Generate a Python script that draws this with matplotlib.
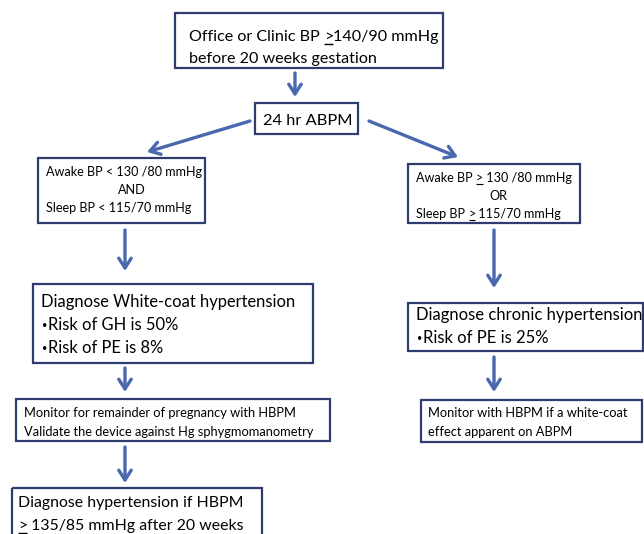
#!/usr/bin/env python3
"""Flowchart: diagnosing hypertension before 20 weeks with ABPM / HBPM."""

import matplotlib
matplotlib.use('Agg')
import matplotlib.pyplot as plt
from matplotlib.patches import Rectangle

plt.rcParams['font.family'] = ['Lato', 'DejaVu Sans']

# Box texts; "_>_" marks an underlined ">" (used as a "greater or equal" sign)
top_lines = ["Office or Clinic BP _>_140/90 mmHg", "before 20 weeks gestation"]
abpm_lines = ["24 hr ABPM"]
left_crit = ["Awake BP < 130 /80 mmHg", "AND", "Sleep BP < 115/70 mmHg"]
right_crit = ["Awake BP _>_ 130 /80 mmHg", "OR", "Sleep BP _>_ 115/70 mmHg"]
left_dx = ["Diagnose White-coat hypertension", "\u2022Risk of GH is 50%", "\u2022Risk of PE is 8%"]
right_dx = ["Diagnose chronic hypertension", "\u2022Risk of PE is 25%"]
left_mon = ["Monitor for remainder of pregnancy with HBPM",
            "Validate the device against Hg sphygmomanometry"]
right_mon = ["Monitor with HBPM if a white-coat", "effect apparent on ABPM"]
final_lines = ["Diagnose hypertension if HBPM", "_>_ 135/85 mmHg after 20 weeks"]

BOX_EC = '#2f3c6e'
ARROW_C = '#4a68ae'

fig = plt.figure(figsize=(6.44, 5.34), dpi=100)
ax = fig.add_axes([0, 0, 1, 1])
ax.set_xlim(0, 644)
ax.set_ylim(534, 0)
ax.axis('off')
renderer = fig.canvas.get_renderer()
inv = ax.transData.inverted()


def box(x0, y0, x1, y1):
    ax.add_patch(Rectangle((x0, y0), x1 - x0, y1 - y0, fill=False,
                           ec=BOX_EC, lw=1.6, clip_on=False))


def put(x, y, s, size):
    """Draw text at baseline y, return x where it ends."""
    t = ax.text(x, y, s, fontsize=size, ha='left', va='baseline')
    bb = t.get_window_extent(renderer)
    return inv.transform((bb.x1, bb.y0))[0]


def rich(x, y, s, size):
    if s.startswith('\u2022'):
        # small bullet, like the reference
        ax.text(x + 1, y - size * 0.38, '\u2022', fontsize=size * 0.55,
                ha='left', va='center')
        x += size * 0.62
        s = s[1:]
    parts = s.split('_')
    for i, p in enumerate(parts):
        if not p:
            continue
        x_end = put(x, y, p, size)
        if i % 2 == 1:
            ax.plot([x + 0.3, x_end - 0.3], [y + size * 0.22] * 2, color='black',
                    lw=size * 0.09, solid_capstyle='butt')
        x = x_end


def lines(x, ys, texts, size, centre=None):
    for y, t in zip(ys, texts):
        if centre is not None and t in ("AND", "OR"):
            ax.text(centre, y, t, fontsize=size, ha='center', va='baseline')
        else:
            rich(x, y, t, size)


def arrow(x0, y0, x1, y1):
    ax.annotate('', xy=(x1, y1), xytext=(x0, y0),
                arrowprops=dict(arrowstyle='->,head_length=0.7,head_width=0.45',
                                color=ARROW_C, lw=2.4, shrinkA=0, shrinkB=0))


# top (y values are text baselines)
box(175, 13, 443, 68)
lines(189, [41, 63], top_lines, 11.6)
arrow(295, 73, 295, 97)
box(255, 103, 358, 134)
lines(263, [125], abpm_lines, 11.8)
arrow(250, 121, 147, 152)
arrow(369, 121, 458, 157)

# left branch
box(38, 158, 205, 223)
lines(46, [176, 194, 212], left_crit, 9.1, centre=132)
arrow(125, 230, 125, 271)
box(33, 284, 313, 363)
lines(41, [307, 330, 353], left_dx, 11.9)
arrow(125, 368, 125, 392)
box(16, 399, 330, 441)
lines(24, [417, 436], left_mon, 9.3)
arrow(125, 447, 125, 483)
box(12, 488, 262, 545)
lines(18, [507, 530], final_lines, 11.4)

# right branch
box(408, 164, 580, 223)
lines(416, [182, 200, 218], right_crit, 9.1, centre=498)
arrow(494, 230, 494, 288)
box(408, 303, 643, 351)
lines(416, [320, 343], right_dx, 12.0)
arrow(494, 357, 494, 392)
box(421, 400, 642, 442)
lines(428, [417, 436], right_mon, 9.3)

fig.savefig('out.png', dpi=100, facecolor='white')
